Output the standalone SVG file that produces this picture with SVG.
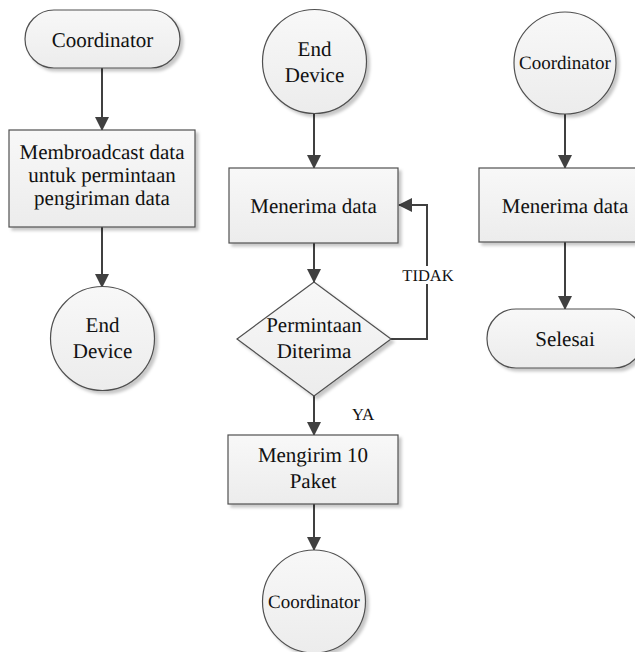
<svg xmlns="http://www.w3.org/2000/svg" width="635" height="652" viewBox="0 0 635 652">
  <defs>
    <linearGradient id="fillGrad" x1="0" y1="0" x2="0" y2="1">
      <stop offset="0" stop-color="#f8f8f8"/>
      <stop offset="1" stop-color="#ececec"/>
    </linearGradient>
    <filter id="shadow" x="-10%" y="-10%" width="130%" height="130%">
      <feDropShadow dx="3" dy="3" stdDeviation="1.5" flood-color="#000" flood-opacity="0.22"/>
    </filter>
    <marker id="arrow" viewBox="0 0 14 14" refX="13" refY="7" markerWidth="14" markerHeight="14" markerUnits="userSpaceOnUse" orient="auto">
      <path d="M0,0 L14,7 L0,14 Z" fill="#404040"/>
    </marker>
  </defs>
  <style>
    text { font-family: "Times New Roman", "Liberation Serif", serif; fill: #111; text-anchor: middle; text-rendering: geometricPrecision; }
    .shape { fill: url(#fillGrad); stroke: #505050; stroke-width: 1.2; filter: url(#shadow); }
    .lbl { font-size: 21px; }
    .small { font-size: 19px; }
    .edge { font-size: 16.5px; }
    .conn { stroke: #404040; stroke-width: 2; fill: none; marker-end: url(#arrow); }
  </style>
  <rect width="635" height="652" fill="#ffffff"/>

  <!-- connectors -->
  <g id="connectors">
    <line class="conn" x1="102" y1="68" x2="102" y2="130"/>
    <line class="conn" x1="102" y1="227" x2="102" y2="287"/>
    <line class="conn" x1="314" y1="113" x2="314" y2="168"/>
    <line class="conn" x1="314" y1="243" x2="314" y2="282"/>
    <line class="conn" x1="314" y1="396" x2="314" y2="435"/>
    <line class="conn" x1="314" y1="504" x2="314" y2="550"/>
    <polyline class="conn" points="391,339 427,339 427,205 399,205"/>
    <line class="conn" x1="565" y1="114" x2="565" y2="168"/>
    <line class="conn" x1="565" y1="242" x2="565" y2="309"/>
    <rect x="402" y="266" width="52" height="18" fill="#ffffff"/>
    <text class="edge" x="428" y="281">TIDAK</text>
    <text class="edge" x="363" y="420" style="font-size:17px">YA</text>
  </g>

  <!-- left column -->
  <g id="coordinator-start">
    <rect class="shape" x="25" y="10" width="155" height="58" rx="29"/>
    <text class="lbl" x="102.5" y="47">Coordinator</text>
  </g>
  <g id="broadcast">
    <rect class="shape" x="9" y="130" width="186" height="97"/>
    <text class="lbl" x="102" y="159">Membroadcast data</text>
    <text class="lbl" x="102" y="182">untuk permintaan</text>
    <text class="lbl" x="102" y="205">pengiriman data</text>
  </g>
  <g id="end-device-left">
    <circle class="shape" cx="102.5" cy="338.5" r="52"/>
    <text class="lbl" x="102.5" y="332">End</text>
    <text class="lbl" x="102.5" y="358">Device</text>
  </g>

  <!-- middle column -->
  <g id="end-device-top">
    <circle class="shape" cx="314.5" cy="61.5" r="52"/>
    <text class="lbl" x="314.5" y="56">End</text>
    <text class="lbl" x="314.5" y="82">Device</text>
  </g>
  <g id="menerima-mid">
    <rect class="shape" x="229" y="168" width="169" height="75"/>
    <text class="lbl" x="313.5" y="213">Menerima data</text>
  </g>
  <g id="decision">
    <polygon class="shape" points="237,339 314,282 391,339 314,396"/>
    <text class="lbl" x="314" y="332">Permintaan</text>
    <text class="lbl" x="314" y="358">Diterima</text>
  </g>
  <g id="mengirim">
    <rect class="shape" x="228" y="435" width="170" height="69"/>
    <text class="lbl" x="313" y="462">Mengirim 10</text>
    <text class="lbl" x="313" y="488">Paket</text>
  </g>
  <g id="coordinator-bottom">
    <circle class="shape" cx="314" cy="601.5" r="51.5"/>
    <text class="small" x="314" y="608">Coordinator</text>
  </g>

  <!-- right column -->
  <g id="coordinator-right">
    <circle class="shape" cx="565" cy="63" r="51"/>
    <text class="small" x="565" y="69">Coordinator</text>
  </g>
  <g id="menerima-right">
    <rect class="shape" x="479" y="168" width="172" height="74"/>
    <text class="lbl" x="565" y="213">Menerima data</text>
  </g>
  <g id="selesai">
    <rect class="shape" x="487" y="309" width="156" height="59" rx="29"/>
    <text class="lbl" x="565" y="346">Selesai</text>
  </g>
</svg>
